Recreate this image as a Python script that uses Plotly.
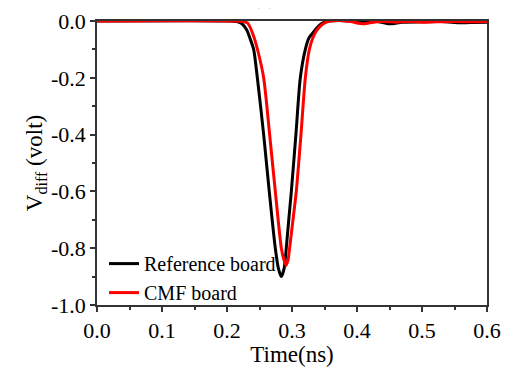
import plotly.graph_objects as go

# Reference board
t_ref = [0.0, 0.20, 0.215, 0.222, 0.23, 0.236, 0.241, 0.2467, 0.2564, 0.265, 0.2743, 0.279, 0.2835,
         0.288, 0.2912, 0.295, 0.299, 0.306, 0.3128, 0.3205, 0.326, 0.331, 0.338, 0.345, 0.355,
         0.37, 0.39, 0.41, 0.43, 0.45, 0.47, 0.5, 0.53, 0.56, 0.58, 0.6]
v_ref = [0.0, 0.0, -0.002, -0.008, -0.03, -0.065, -0.10, -0.2, -0.4, -0.6, -0.8, -0.87, -0.90,
         -0.87, -0.8, -0.7, -0.6, -0.4, -0.2, -0.10, -0.06, -0.045, -0.025, -0.01, 0.0,
         0.002, 0.0, -0.004, -0.002, -0.01, -0.004, -0.003, -0.002, -0.006, -0.005, -0.004]

# CMF board
t_cmf = [0.0, 0.21, 0.225, 0.232, 0.2405, 0.248, 0.2564, 0.2656, 0.2743, 0.2836, 0.2875, 0.2908,
         0.294, 0.2963, 0.3015, 0.3066, 0.3138, 0.3205, 0.3267, 0.332, 0.3374, 0.345, 0.352, 0.36,
         0.375, 0.39, 0.41, 0.42, 0.44, 0.46, 0.48, 0.5, 0.52, 0.55, 0.58, 0.6]
v_cmf = [0.0, 0.0, -0.002, -0.008, -0.05, -0.11, -0.2, -0.4, -0.6, -0.8, -0.84, -0.86,
         -0.84, -0.8, -0.7, -0.6, -0.4, -0.2, -0.10, -0.06, -0.035, -0.015, -0.005, 0.0,
         0.002, -0.002, -0.01, -0.006, -0.002, -0.004, -0.002, -0.004, -0.003, -0.002, -0.003, -0.002]

x_ticks = [0.0, 0.1, 0.2, 0.3, 0.4, 0.5, 0.6]
y_ticks = [0.0, -0.2, -0.4, -0.6, -0.8, -1.0]

FONT = "Liberation Serif"

fig = go.Figure()
fig.add_trace(go.Scatter(x=t_ref, y=v_ref, mode="lines", name="Reference board",
                         line=dict(color="black", width=3, shape="spline", smoothing=0.7)))
fig.add_trace(go.Scatter(x=t_cmf, y=v_cmf, mode="lines", name="CMF board",
                         line=dict(color="#ff0000", width=3, shape="spline", smoothing=0.7)))

fig.update_layout(
    width=502, height=359,
    font=dict(family=FONT, size=21, color="black"),
    margin=dict(l=89, r=23, t=13, b=62),
    paper_bgcolor="white", plot_bgcolor="white",
    showlegend=True,
    legend=dict(x=0.018, y=-0.025, xanchor="left", yanchor="bottom", bgcolor="rgba(0,0,0,0)",
                font=dict(family=FONT, size=20, color="black"), tracegroupgap=0,
                itemwidth=30, borderwidth=0),
    xaxis=dict(
        range=[0, 0.6], tickmode="array", tickvals=x_ticks,
        ticktext=[f"{v:.1f}" for v in x_ticks],
        tickfont=dict(family=FONT, size=22, color="black"),
        showgrid=False, zeroline=False, showline=True, linecolor="#333333",
        linewidth=1.5, mirror=True, ticks="outside", ticklen=5, tickwidth=1.5,
        tickcolor="#333333", automargin=False,
        minor=dict(dtick=0.05, ticks="outside", ticklen=3, tickcolor="#333333", tickwidth=1.5),
        title=dict(text="Time(ns)", font=dict(family=FONT, size=23, color="black"), standoff=3),
    ),
    yaxis=dict(
        range=[-1.0, 0.0], tickmode="array", tickvals=y_ticks,
        ticktext=[f"{v:.1f}" for v in y_ticks],
        tickfont=dict(family=FONT, size=22, color="black"),
        showgrid=False, zeroline=False, showline=True, linecolor="#333333",
        linewidth=1.5, mirror=True, ticks="outside", ticklen=5, tickwidth=1.5,
        tickcolor="#333333", automargin=False,
        minor=dict(dtick=0.1, ticks="outside", ticklen=3, tickcolor="#333333", tickwidth=1.5),
        title=dict(text="V<sub>diff</sub> (volt)", font=dict(family=FONT, size=23, color="black"), standoff=2),
    ),
)

fig.add_annotation(text="(a)", xref="paper", yref="paper", x=0.427, y=1.036,
                   xanchor="center", yanchor="bottom", showarrow=False,
                   font=dict(family=FONT, size=20, color="black"))

fig.write_html("out.html")
